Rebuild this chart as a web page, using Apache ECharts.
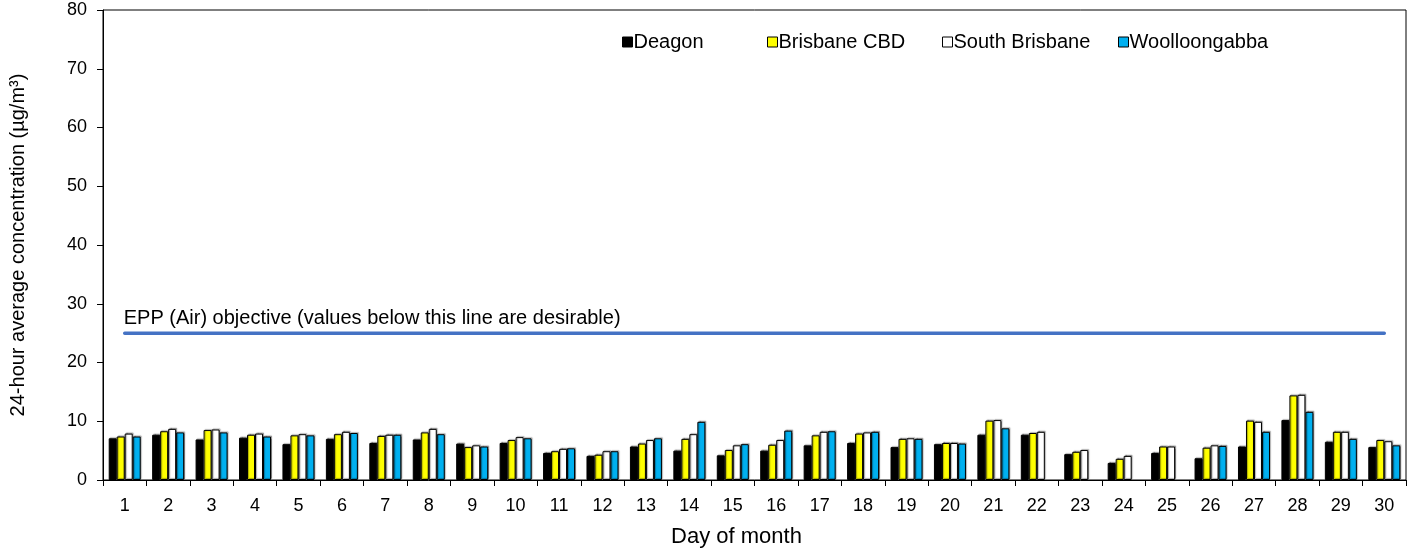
<!DOCTYPE html>
<html>
<head>
<meta charset="utf-8">
<script src="https://cdn.jsdelivr.net/npm/echarts@6/dist/echarts.min.js"></script>
<style>
  html, body { margin: 0; padding: 0; background: #fff; }
  #main { width: 1415px; height: 553px; }
</style>
</head>
<body>
<div id="main"></div>
<script>
const days = ['1','2','3','4','5','6','7','8','9','10','11','12','13','14','15',
  '16','17','18','19','20','21','22','23','24','25','26','27','28','29','30']

const deagon = [7.1, 7.7, 6.9, 7.2, 6.1, 7.0, 6.3, 6.9, 6.2, 6.3, 4.6, 4.1, 5.7, 5.0, 4.2,
  5.0, 5.9, 6.3, 5.6, 6.1, 7.7, 7.7, 4.4, 2.9, 4.6, 3.7, 5.7, 10.2, 6.5, 5.6]
const brisbaneCbd = [7.4, 8.3, 8.5, 7.7, 7.6, 7.8, 7.5, 8.1, 5.6, 6.8, 4.9, 4.3, 6.2, 7.0, 5.1,
  6.0, 7.6, 7.9, 7.0, 6.3, 10.1, 8.0, 4.8, 3.6, 5.7, 5.5, 10.1, 14.4, 8.2, 6.8]
const southBrisbane = [7.9, 8.7, 8.6, 7.9, 7.8, 8.2, 7.7, 8.7, 5.9, 7.3, 5.3, 4.9, 6.8, 7.8, 5.9,
  6.8, 8.2, 8.1, 7.1, 6.3, 10.2, 8.2, 5.1, 4.1, 5.7, 5.9, 9.9, 14.5, 8.2, 6.6]
const woolloongabba = [7.4, 8.1, 8.1, 7.4, 7.6, 8.0, 7.7, 7.8, 5.7, 7.1, 5.4, 4.9, 7.1, 9.9, 6.1,
  8.4, 8.3, 8.2, 7.0, 6.2, 8.8, null, null, null, null, 5.8, 8.2, 11.6, 7.0, 5.9]
const objective = days.map(() => 25)

const yTicks = { min: 0, max: 80, interval: 10 }

const font = 'Liberation Sans, Arial, sans-serif'

function main() {
  var chart = echarts.init(document.getElementById('main'))

  const barStyle = (color) => ({
    color: color,
    borderColor: '#000',
    borderWidth: 1,
    shadowColor: 'rgba(0,0,0,0.35)',
    shadowOffsetX: 1,
    shadowOffsetY: -1,
    shadowBlur: 1
  })

  const legendItem = (name, left) => ({
    data: [name],
    left: left,
    top: 27,
    itemWidth: 10,
    itemHeight: 10,
    itemGap: 0,
    icon: 'rect',
    selectedMode: false,
    textStyle: { fontFamily: font, fontSize: 20, color: '#000', padding: [0, 0, 0, -4] },
    itemStyle: { borderColor: '#000', borderWidth: 1 }
  })

  let option = {
    animation: false,
    textStyle: { fontFamily: font },
    grid: {
      left: 103, right: 9, top: 10, bottom: 72,
      show: true, borderColor: '#000', borderWidth: 1
    },
    legend: [
      legendItem('Deagon', 617),
      legendItem('Brisbane CBD', 762),
      legendItem('South Brisbane', 937),
      legendItem('Woolloongabba', 1113)
    ],
    xAxis: {
      type: 'category',
      data: days,
      name: 'Day of month',
      nameLocation: 'middle',
      nameGap: 46,
      nameTextStyle: { fontFamily: font, fontSize: 22, color: '#000', padding: [0, 36, 0, 0] },
      axisLine: { lineStyle: { color: '#000', width: 1 } },
      axisTick: { show: true, length: 6, lineStyle: { color: '#000' } },
      axisLabel: { fontFamily: font, fontSize: 18, color: '#000', margin: 17 }
    },
    yAxis: {
      type: 'value',
      ...yTicks,
      name: '24-hour average concentration (µg/m³)',
      nameLocation: 'middle',
      nameGap: 75,
      nameTextStyle: { fontFamily: font, fontSize: 20, color: '#000' },
      axisLine: { show: true, lineStyle: { color: '#000', width: 1 } },
      axisTick: { show: true, length: 6, lineStyle: { color: '#000' } },
      axisLabel: { fontFamily: font, fontSize: 18, color: '#000', margin: 16 },
      splitLine: { show: false }
    },
    series: [
      { name: 'Deagon', type: 'bar', data: deagon, barWidth: 8, barGap: '0%', itemStyle: barStyle('#000000') },
      { name: 'Brisbane CBD', type: 'bar', data: brisbaneCbd, barWidth: 8, barGap: '0%', itemStyle: barStyle('#FFFF00') },
      { name: 'South Brisbane', type: 'bar', data: southBrisbane, barWidth: 8, barGap: '0%', itemStyle: barStyle('#FFFFFF') },
      { name: 'Woolloongabba', type: 'bar', data: woolloongabba, barWidth: 8, barGap: '0%', itemStyle: barStyle('#00B0F0') },
      {
        name: 'EPP (Air) objective',
        type: 'line',
        data: objective.map((v, i) => i === 0 ? {
          value: v,
          label: {
            show: true,
            position: 'top',
            align: 'left',
            offset: [-1, 0],
            formatter: 'EPP (Air) objective (values below this line are desirable)',
            fontFamily: font,
            fontSize: 20,
            color: '#000'
          }
        } : v),
        symbol: 'circle',
        symbolSize: 0,
        showSymbol: true,
        lineStyle: { color: '#4472C4', width: 3.5, cap: 'round' },
        z: 5
      }
    ]
  }

  chart.setOption(option)
}

main()
</script>
</body>
</html>
